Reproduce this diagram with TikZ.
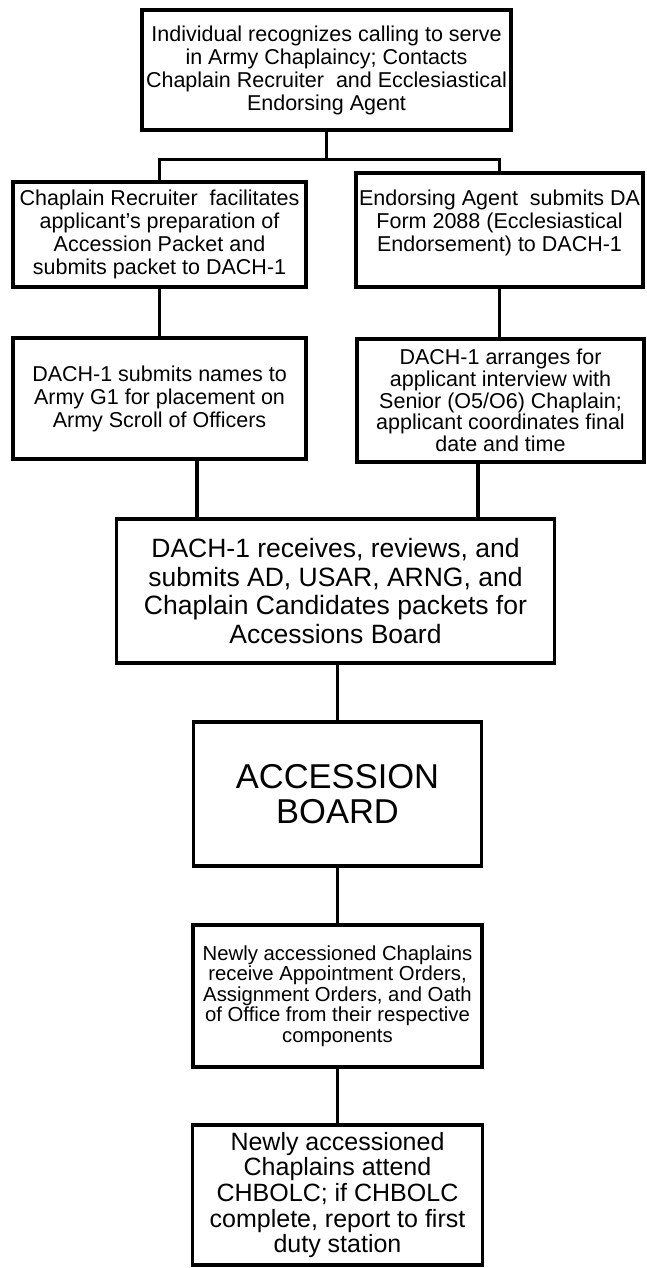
\documentclass[tikz,border=0pt]{standalone}
\usepackage{fontspec}
\setmainfont{Liberation Sans}
\usetikzlibrary{positioning}

\newcommand{\padbelow}[1]{\rule[-#1]{0pt}{#1}}

\tikzset{
  box/.style={draw, line width=3.3pt, align=center, inner sep=0pt},
  wire/.style={line width=3.3pt},
  txt/.style={font=\fontsize{21.5}{23}\selectfont},
}

\begin{document}
\begin{tikzpicture}[x=1pt,y=-1pt]
  \useasboundingbox[fill=white] (0,0) rectangle (646,1268);

  %  Define nodes
  \node[box, txt, minimum width=369pt, minimum height=120pt] (calling) at (326.5,70)
    {Individual recognizes calling to serve\\in Army Chaplaincy; Contacts\\Chaplain Recruiter\ \ and Ecclesiastical\\Endorsing Agent};
  \node[box, txt, minimum width=293pt, minimum height=105pt] (recruiter) at (159.5,234.5)
    {Chaplain Recruiter\ \ facilitates\\applicant's preparation of\\Accession Packet and\\submits packet to DACH-1};
  \node[box, txt, minimum width=287pt, minimum height=114pt] (endorse) at (499.5,230)
    {Endorsing Agent\ \ submits DA\\Form 2088 (Ecclesiastical\\Endorsement) to DACH-1\padbelow{18pt}};
  \node[box, txt, minimum width=293pt, minimum height=121pt] (names) at (159.5,398.5)
    {DACH-1 submits names to\\Army G1 for placement on\\Army Scroll of Officers};
  \node[box, txt, minimum width=287pt, minimum height=123pt, font=\fontsize{21.5}{21.7}\selectfont] (interview) at (500.5,400.5)
    {DACH-1 arranges for\\applicant interview with\\Senior (O5/O6) Chaplain;\\applicant coordinates final\\date and time};
  \node[box, minimum width=438pt, minimum height=144pt, font=\fontsize{26.5}{28.5}\selectfont] (review) at (335.5,591)
    {DACH-1 receives, reviews, and\\submits AD, USAR, ARNG, and\\Chaplain Candidates packets for\\Accessions Board};
  \node[box, minimum width=288pt, minimum height=144pt, font=\fontsize{34.5}{35}\selectfont] (board) at (337.5,794)
    {ACCESSION\\BOARD};
  \node[box, minimum width=289pt, minimum height=142pt, font=\fontsize{20.3}{20.5}\selectfont] (orders) at (337.5,996)
    {Newly accessioned Chaplains\\receive Appointment Orders,\\Assignment Orders, and Oath\\of Office from their respective\\components};
  \node[box, minimum width=290pt, minimum height=140pt, font=\fontsize{25}{25.7}\selectfont] (chbolc) at (337.5,1195)
    {Newly accessioned\\Chaplains attend\\CHBOLC; if CHBOLC\\complete, report to first\\duty station};

  % Connect the nodes
  \draw[wire] (calling.south) -- ++(0,28) coordinate (split);
  \draw[wire] (split) -| (recruiter.north);
  \draw[wire] (split) -| (endorse.north);
  \draw[wire] (recruiter) -- (names);
  \draw[wire] (endorse.south) -- (endorse.south |- interview.north);
  \draw[wire] ([xshift=37.5pt]names.south) -- ([xshift=37.5pt]names.south |- review.north);
  \draw[wire] ([xshift=-22.5pt]interview.south) -- ([xshift=-22.5pt]interview.south |- review.north);
  \draw[wire] (board.north |- review.south) -- (board.north);
  \draw[wire] (board) -- (orders);
  \draw[wire] (orders) -- (chbolc);
\end{tikzpicture}
\end{document}
